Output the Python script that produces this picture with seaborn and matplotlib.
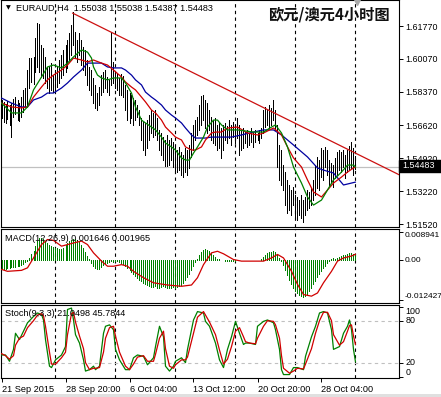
import matplotlib
matplotlib.use("Agg")

import matplotlib.pyplot as plt
import seaborn as sns
import numpy as np
from matplotlib.patches import Rectangle

# ──────────────────────────────────────────────
# DATA  (EURAUD H4, oldest bar first)
# ──────────────────────────────────────────────

bar_high = [
    1.5794, 1.5784, 1.5773, 1.5789, 1.5768, 1.5778, 1.5799, 1.5809, 1.5794, 1.5778,
    1.5809, 1.5846, 1.5856, 1.5949, 1.6011, 1.6011, 1.6017, 1.6115, 1.6193, 1.6187,
    1.6079, 1.6063, 1.6017, 1.5965, 1.5965, 1.5985, 1.5923, 1.5949, 1.5970, 1.6001,
    1.6027, 1.6053, 1.6079, 1.6105, 1.6141, 1.6182, 1.6249, 1.6146, 1.6105, 1.6141,
    1.6105, 1.6068, 1.6053, 1.6001, 1.5965, 1.5949, 1.5908, 1.5872, 1.5830, 1.5861,
    1.5923, 1.5939, 1.5949, 1.5913, 1.5898, 1.6146, 1.5991, 1.5939, 1.5934, 1.5908,
    1.5929, 1.5918, 1.5872, 1.5846, 1.5830, 1.5820, 1.5804, 1.5794, 1.5768, 1.5742,
    1.5701, 1.5680, 1.5675, 1.5690, 1.5716, 1.5742, 1.5727, 1.5742, 1.5701, 1.5639,
    1.5623, 1.5602, 1.5587, 1.5613, 1.5587, 1.5597, 1.5576, 1.5561, 1.5535, 1.5551,
    1.5525, 1.5509, 1.5545, 1.5535, 1.5561, 1.5623, 1.5665, 1.5690, 1.5706, 1.5768,
    1.5815, 1.5820, 1.5794, 1.5778, 1.5742, 1.5706, 1.5690, 1.5701, 1.5665, 1.5680,
    1.5649, 1.5665, 1.5675, 1.5659, 1.5690, 1.5665, 1.5680, 1.5654, 1.5701, 1.5665,
    1.5639, 1.5649, 1.5628, 1.5639, 1.5623, 1.5649, 1.5628, 1.5639, 1.5623, 1.5639,
    1.5649, 1.5742, 1.5758, 1.5742, 1.5768, 1.5753, 1.5794, 1.5742, 1.5665, 1.5561,
    1.5535, 1.5457, 1.5421, 1.5380, 1.5354, 1.5328, 1.5343, 1.5302, 1.5292, 1.5276,
    1.5302, 1.5276, 1.5292, 1.5328, 1.5318, 1.5338, 1.5380, 1.5457, 1.5499, 1.5483,
    1.5545, 1.5535, 1.5551, 1.5535, 1.5483, 1.5468, 1.5457, 1.5494, 1.5525, 1.5535,
    1.5525, 1.5535, 1.5509, 1.5535, 1.5556, 1.5576, 1.5545, 1.55038,
]
bar_low = [
    1.5701, 1.5680, 1.5675, 1.5696, 1.5665, 1.5602, 1.5706, 1.5722, 1.5690, 1.5685,
    1.5706, 1.5732, 1.5758, 1.5758, 1.5856, 1.5887, 1.5877, 1.5939, 1.5965, 1.5939,
    1.5913, 1.5908, 1.5882, 1.5856, 1.5830, 1.5846, 1.5835, 1.5846, 1.5861, 1.5882,
    1.5908, 1.5923, 1.5939, 1.5960, 1.6001, 1.6027, 1.6079, 1.6011, 1.5991, 1.6027,
    1.5975, 1.5949, 1.5923, 1.5872, 1.5846, 1.5820, 1.5778, 1.5753, 1.5742, 1.5768,
    1.5820, 1.5835, 1.5856, 1.5835, 1.5820, 1.5872, 1.5882, 1.5856, 1.5846, 1.5820,
    1.5820, 1.5809, 1.5742, 1.5690, 1.5675, 1.5701, 1.5665, 1.5690, 1.5706, 1.5665,
    1.5587, 1.5535, 1.5509, 1.5545, 1.5587, 1.5623, 1.5602, 1.5613, 1.5587, 1.5535,
    1.5509, 1.5483, 1.5452, 1.5452, 1.5457, 1.5483, 1.5447, 1.5431, 1.5421, 1.5431,
    1.5406, 1.5395, 1.5421, 1.5406, 1.5442, 1.5499, 1.5535, 1.5587, 1.5613, 1.5639,
    1.5665, 1.5690, 1.5649, 1.5623, 1.5639, 1.5587, 1.5571, 1.5561, 1.5535, 1.5545,
    1.5494, 1.5535, 1.5587, 1.5571, 1.5597, 1.5561, 1.5602, 1.5571, 1.5597, 1.5509,
    1.5535, 1.5545, 1.5571, 1.5551, 1.5561, 1.5576, 1.5551, 1.5576, 1.5587, 1.5571,
    1.5597, 1.5623, 1.5654, 1.5665, 1.5649, 1.5665, 1.5690, 1.5639, 1.5447, 1.5380,
    1.5354, 1.5328, 1.5250, 1.5209, 1.5224, 1.5198, 1.5250, 1.5188, 1.5173, 1.5198,
    1.5183, 1.5162, 1.5198, 1.5224, 1.5235, 1.5250, 1.5276, 1.5302, 1.5338, 1.5328,
    1.5395, 1.5380, 1.5447, 1.5406, 1.5354, 1.5364, 1.5343, 1.5390, 1.5406, 1.5431,
    1.5421, 1.5447, 1.5390, 1.5421, 1.5431, 1.5442, 1.5406, 1.54387,
]
last_ohlc = [1.55038, 1.55038, 1.54387, 1.54483]

# moving averages (sampled along the bars)
ma_fast_idx = [0, 5, 10, 13, 16, 20, 23, 26, 30, 33, 36, 40, 43, 45, 46, 48, 50, 53, 56, 60,
               62, 65, 67, 70, 72, 75, 77, 80, 82, 85, 87, 90, 92, 94, 96, 98, 101, 103, 106, 108,
               110, 113, 118, 126, 131, 135, 137, 140, 143, 146, 150, 153, 156, 160, 163, 166, 170, 173, 176, 177]
ma_fast = [1.5778, 1.5727, 1.5727, 1.5758, 1.5846, 1.5913, 1.5965, 1.5975, 1.5960, 1.5985,
           1.6017, 1.6053, 1.6042, 1.6011, 1.5965, 1.5923, 1.5908, 1.5898, 1.5908, 1.5908,
           1.5882, 1.5830, 1.5758, 1.5690, 1.5675, 1.5654, 1.5639, 1.5602, 1.5571, 1.5551,
           1.5535, 1.5494, 1.5483, 1.5483, 1.5519, 1.5551, 1.5602, 1.5654, 1.5690, 1.5690,
           1.5665, 1.5639, 1.5639, 1.5628, 1.5628, 1.5654, 1.5665, 1.5623, 1.5551, 1.5447,
           1.5364, 1.5292, 1.5250, 1.5276, 1.5328, 1.5380, 1.5421, 1.5457, 1.5457, 1.5447]

ma_mid_idx = [0, 5, 10, 13, 16, 20, 23, 26, 30, 33, 36, 40, 43, 46, 50, 53, 56, 60, 62, 65,
              67, 70, 72, 75, 77, 80, 82, 85, 87, 90, 92, 95, 97, 100, 102, 105, 107, 110, 113, 118,
              123, 128, 131, 136, 140, 143, 146, 150, 153, 156, 160, 163, 166, 170, 173, 176, 177]
ma_mid = [1.5778, 1.5758, 1.5753, 1.5758, 1.5809, 1.5861, 1.5898, 1.5923, 1.5949, 1.5975,
          1.6011, 1.6001, 1.5991, 1.6001, 1.5985, 1.5975, 1.5949, 1.5913, 1.5887, 1.5861,
          1.5846, 1.5809, 1.5784, 1.5742, 1.5727, 1.5690, 1.5654, 1.5623, 1.5602, 1.5587,
          1.5551, 1.5535, 1.5535, 1.5551, 1.5587, 1.5623, 1.5628, 1.5628, 1.5649, 1.5654,
          1.5623, 1.5613, 1.5623, 1.5649, 1.5613, 1.5551, 1.5494, 1.5447, 1.5380, 1.5318,
          1.5292, 1.5328, 1.5364, 1.5395, 1.5421, 1.5442, 1.5447]

ma_slow_idx = [0, 5, 10, 13, 16, 20, 23, 26, 30, 33, 36, 40, 43, 46, 50, 53, 56, 60, 62, 65,
               67, 70, 72, 75, 77, 80, 82, 85, 87, 90, 92, 95, 97, 100, 102, 105, 110, 115, 120, 126,
               131, 136, 140, 146, 153, 158, 161, 166, 171, 175, 177]
ma_slow = [1.5804, 1.5778, 1.5758, 1.5758, 1.5794, 1.5809, 1.5830, 1.5830, 1.5856, 1.5882,
           1.5913, 1.5949, 1.5985, 1.5985, 1.5985, 1.5965, 1.5960, 1.5960, 1.5949, 1.5923,
           1.5898, 1.5872, 1.5835, 1.5809, 1.5794, 1.5768, 1.5742, 1.5716, 1.5701, 1.5675,
           1.5649, 1.5613, 1.5597, 1.5597, 1.5597, 1.5602, 1.5602, 1.5602, 1.5613, 1.5628,
           1.5639, 1.5639, 1.5613, 1.5561, 1.5499, 1.5442, 1.5431, 1.5416, 1.5354, 1.5364,
           1.5369]

# hand-drawn resistance line: (bar index, price) at both ends
trend_idx = [35.5, 199.0]
trend_price = [1.6244, 1.5406]

# MACD(12,26,9), values in thousandths
macd_hist = [
    -2.8, -2.8, -2.6, -2.5, -2.3, -2.2, -2.0, -1.9, -1.8, -1.6, -1.3, -1.0, -0.6, -0.2,
    0.8, 2.0, 3.0,
    4.5, 6.0, 7.0, 7.2, 6.8, 6.0,
    5.5, 5.0, 4.5, 4.2, 4.0,
    3.8, 3.5, 3.6, 4.0,
    4.8, 5.5, 6.0, 6.5, 6.8,
    6.6, 6.3, 5.8, 5.0,
    4.0, 2.8, 1.5, 0.5,
    -0.8, -1.8, -2.5, -2.8, -2.6, -2.0,
    -1.5, -1.0, -0.7, -0.4, -0.2, -0.5, -0.3,
    -0.3, -0.6, -0.9, -1.2, -1.8,
    -2.4, -3.0, -3.6, -4.2, -4.8, -5.4, -6.0, -6.5, -7.0, -7.5, -7.8, -8.0,
    -8.2, -8.4, -8.0, -8.5, -8.6, -8.3, -8.1, -8.4, -8.6, -8.7, -8.5, -8.4, -8.6, -8.3,
    -8.0, -7.6, -7.0, -6.2,
    -5.2, -4.2, -3.0, -1.8, -0.6,
    0.6, 1.6, 2.6, 3.2, 3.5,
    3.4, 3.0, 2.4, 1.6, 1.0, 0.6,
    0.4, 0.2, 0.0, -0.2,
    -0.3, -0.3, -0.2, -0.3, -0.2, 0.0, 0.1, 0.2, 0.3, 0.2, 0.2, 0.3, 0.3, 0.2, 0.1, 0.1, 0.2,
    0.6, 1.2, 1.8, 2.3, 2.6, 2.8, 2.9, 2.6,
    1.8, 0.8, -0.3, -1.5,
    -3.0, -4.5, -6.0, -7.3, -8.5, -9.5, -10.3, -10.9, -11.3,
    -11.5, -11.2, -10.5, -9.6, -8.6,
    -7.5, -6.4, -5.3, -4.3, -3.4, -2.5,
    -1.6, -0.8, -0.1, 0.4,
    0.8, 0.6, 0.9, 1.2, 1.5,
    1.6, 1.8, 2.0, 2.3, 2.5, 2.1, 1.646,
]
macd_sig_idx = [0, 3, 10, 13, 16, 20, 23, 26, 30, 33, 36, 40, 43, 46, 50, 53, 56, 60, 63, 66,
                71, 76, 83, 90, 95, 98, 101, 105, 108, 111, 116, 120, 126, 131, 135, 138, 141, 145,
                148, 151, 155, 158, 161, 165, 168, 171, 175, 177]
macd_signal = [-2.8, -3.4, -3.1, -2.3, 0.8, 5.0, 6.6, 6.3, 4.5, 5.0,
               5.5, 6.1, 5.0, 2.4, -0.2, -1.8, -1.8, -1.3, -1.8, -3.4,
               -5.4, -7.0, -7.7, -8.1, -7.7, -5.4, -1.3, 2.4, 2.9, 2.1,
               0.3, -0.2, -0.2, -0.2, 0.8, 1.9, 0.8, -3.4, -7.5, -10.7,
               -11.2, -10.2, -7.0, -3.4, -0.2, 0.8, 1.4, 1.965]

# Stochastic(9,3,3)
stoch_idx = [0, 2, 4, 6, 7, 9, 11, 13, 16, 18, 20, 21, 22, 24, 25, 27, 30, 32, 33, 35,
             36, 37, 39, 41, 42, 44, 46, 47, 49, 51, 52, 54, 56, 57, 59, 62, 64, 66, 68, 71,
             73, 76, 77, 79, 81, 82, 84, 86, 87, 90, 92, 93, 96, 98, 101, 102, 104, 107, 109, 111,
             113, 115, 117, 119, 121, 122, 124, 127, 128, 131, 133, 136, 137, 139, 140, 141, 144, 146, 148, 151,
             152, 155, 157, 159, 161, 163, 165, 166, 169, 171, 173, 174, 175, 176, 177]
stoch_main = [31, 31, 22, 39, 62, 53, 65, 77, 86, 91, 89, 81, 53, 15, 13, 24, 31, 43, 96, 98,
              81, 60, 48, 24, 8, 10, 15, 10, 15, 62, 72, 74, 67, 39, 24, 10, 10, 27, 31, 29,
              17, 27, 43, 72, 57, 15, 8, 15, 22, 27, 20, 39, 81, 93, 91, 79, 72, 48, 24, 13,
              39, 57, 79, 62, 46, 48, 48, 46, 72, 79, 81, 77, 67, 39, 10, 3, 3, 13, 13, 10,
              29, 57, 72, 91, 93, 91, 67, 39, 43, 62, 72, 81, 67, 39, 21.0498]
stoch_signal = [33, 30, 25, 30, 45, 55, 58, 70, 80, 88, 90, 87, 72, 35, 18, 18, 27, 35, 60, 90,
                92, 78, 58, 40, 20, 10, 12, 12, 13, 35, 55, 70, 72, 58, 35, 15, 10, 18, 28, 30,
                22, 22, 32, 55, 65, 40, 15, 12, 17, 24, 24, 28, 62, 85, 93, 88, 78, 60, 38, 18,
                25, 43, 65, 70, 57, 50, 48, 47, 55, 72, 80, 79, 74, 55, 30, 12, 5, 8, 12, 11,
                18, 40, 62, 80, 92, 92, 80, 60, 45, 50, 65, 73, 74, 58, 45.7844]

# axis ticks
price_ticks = [1.61770, 1.60070, 1.58370, 1.56620, 1.54920, 1.53220, 1.51520]
macd_ticks = [0.008941, 0.0, -0.012427]
macd_tick_labels = ["0.008941", "0.00", "-0.012427"]
stoch_ticks = [100, 80, 20, 0]
week_separators = [27, 57, 87, 117, 147, 177]
date_ticks = [0, 32, 64, 96, 128, 160]
date_labels = ["21 Sep 2015", "28 Sep 20:00", "6 Oct 04:00",
               "13 Oct 12:00", "20 Oct 20:00", "28 Oct 04:00"]

# ──────────────────────────────────────────────
# STYLE
# ──────────────────────────────────────────────
sns.set_theme(style="white")
plt.rcParams["font.family"] = ["Liberation Sans", "Noto Sans CJK SC", "DejaVu Sans"]
plt.rcParams["axes.linewidth"] = 0.8

GREEN = "#008000"
RED = "#d00000"
BLUE = "#0000a0"
FS = 6.4
PX = 0.7   # about one pixel in points at 100 dpi

W, H = 441, 397
fig = plt.figure(figsize=(W / 100, H / 100), dpi=100)
fig.patch.set_facecolor("white")


def px_rect(x0, y0, x1, y1):
    return [x0 / W, 1 - y1 / H, (x1 - x0) / W, (y1 - y0) / H]


ax_p = fig.add_axes(px_rect(0.5, 0, 399, 227))
ax_m = fig.add_axes(px_rect(0.5, 229, 399, 303))
ax_s = fig.add_axes(px_rect(0.5, 305, 399, 378))

idx = np.arange(len(bar_high))
XLIM = (-0.5, 198.75)   # exactly two pixels per bar

for ax in (ax_p, ax_m, ax_s):
    ax.set_facecolor("white")
    ax.set_xlim(*XLIM)
    for sp in ax.spines.values():
        sp.set_color("black")
        sp.set_linewidth(0.8)
    ax.yaxis.tick_right()
    ax.tick_params(axis="y", which="both", right=True, left=False, length=3, width=0.7,
                   direction="out", pad=1.5, labelsize=FS, colors="black")
    ax.tick_params(axis="x", bottom=False, labelbottom=False)
    for s in week_separators:
        ax.axvline(s, color="black", lw=0.8, ls=(0, (3, 3)), zorder=1)

# ── price panel ──
ax_p.set_ylim(1.51365, 1.63116)
ax_p.axhline(last_ohlc[3], color="#c0c0c0", lw=0.9, zorder=1)
ax_p.vlines(idx, bar_low, bar_high, color="black", lw=PX, zorder=3, antialiased=False)
sns.lineplot(x=ma_slow_idx, y=ma_slow, ax=ax_p, color=BLUE, lw=0.9, estimator=None, zorder=4)
sns.lineplot(x=ma_mid_idx, y=ma_mid, ax=ax_p, color=RED, lw=0.9, estimator=None, zorder=4)
sns.lineplot(x=ma_fast_idx, y=ma_fast, ax=ax_p, color=GREEN, lw=0.9, estimator=None, zorder=4)
sns.lineplot(x=trend_idx, y=trend_price, ax=ax_p, color="#cc1010", lw=0.9, estimator=None, zorder=5)
ax_p.set_yticks(price_ticks)
ax_p.set_yticklabels([f"{t:.5f}" for t in price_ticks])
ax_p.set_xlabel("")
ax_p.set_ylabel("")

ax_p.text(5 / 399, 1 - 8 / 227, "\u25bc", transform=ax_p.transAxes, fontsize=4.5,
          family="DejaVu Sans", va="center", ha="left", color="black")
ax_p.text(16 / 399, 1 - 8 / 227,
          "EURAUD,H4  " + " ".join(f"{v:.5f}" for v in last_ohlc),
          transform=ax_p.transAxes, fontsize=6.6, va="center", ha="left", color="black")
ax_p.text(390 / 399, 1 - 14 / 227, "欧元/澳元4小时图", transform=ax_p.transAxes,
          fontsize=11, fontweight="bold", va="center", ha="right", color="#111111",
          family=["Noto Sans CJK SC", "DejaVu Sans"])
ax_p.plot([357 / 399], [0.992], transform=ax_p.transAxes, marker="v", ms=5,
          color="#a8a8a8", clip_on=False, zorder=6)

# current price tag on the axis
fig.patches.append(Rectangle((399 / W, 1 - 172 / H), 42 / W, 12 / H, transform=fig.transFigure,
                             facecolor="black", edgecolor="black", zorder=10))
fig.text(402 / W, 1 - 166 / H, f"{last_ohlc[3]:.5f}", color="white", fontsize=FS,
         va="center", ha="left", zorder=11)

# ── MACD panel ──
macd_h = np.array(macd_hist) * 1e-3
ax_m.set_ylim(-0.01335, 0.00989)
ax_m.vlines(idx, 0, macd_h, color=GREEN, lw=PX, zorder=3, antialiased=False)
sns.lineplot(x=macd_sig_idx, y=np.array(macd_signal) * 1e-3, ax=ax_m, color=RED, lw=0.9,
             estimator=None, zorder=4)
ax_m.set_yticks(macd_ticks)
ax_m.set_yticklabels(macd_tick_labels)
ax_m.tick_params(axis="y", labelsize=6.0, pad=1.0)
for lab, va in zip(ax_m.get_yticklabels(), ["top", "center", "bottom"]):
    lab.set_verticalalignment(va)
ax_m.set_xlabel("")
ax_m.set_ylabel("")
ax_m.text(5 / 399, 0.878, f"MACD(12,26,9) {macd_hist[-1] / 1000:.6f} {macd_signal[-1] / 1000:.6f}",
          transform=ax_m.transAxes, fontsize=6.6, va="center", ha="left", color="black", zorder=6)

# ── Stochastic panel ──
ax_s.set_ylim(-1.9, 102.4)
for lvl in (20, 80):
    ax_s.axhline(lvl, color="#c0c0c0", lw=0.8, ls=(0, (3, 3)), zorder=1)
sns.lineplot(x=stoch_idx, y=stoch_main, ax=ax_s, color=GREEN, lw=0.9, estimator=None, zorder=3)
sns.lineplot(x=stoch_idx, y=stoch_signal, ax=ax_s, color=RED, lw=0.9, estimator=None, zorder=4)
ax_s.set_yticks(stoch_ticks)
ax_s.set_yticklabels([str(t) for t in stoch_ticks])
for lab, va in zip(ax_s.get_yticklabels(), ["top", "center", "center", "bottom"]):
    lab.set_verticalalignment(va)
ax_s.set_ylabel("")
ax_s.text(5 / 399, 0.877, f"Stoch(9,3,3) {stoch_main[-1]:.4f} {stoch_signal[-1]:.4f}",
          transform=ax_s.transAxes, fontsize=6.6, va="center", ha="left", color="black", zorder=6)

ax_s.set_xticks(date_ticks)
ax_s.set_xticklabels(date_labels)
ax_s.tick_params(axis="x", bottom=True, labelbottom=True, length=3, width=0.7,
                 direction="out", pad=2, labelsize=6.6, colors="black")
for lab in ax_s.get_xticklabels():
    lab.set_horizontalalignment("left")
ax_s.set_xlabel("")

# grey window strip at the very bottom
fig.patches.append(Rectangle((0, 0), 1, 3 / H, transform=fig.transFigure,
                             facecolor="#e0e0e0", edgecolor="none", zorder=0))

fig.savefig("out.png", dpi=100)
